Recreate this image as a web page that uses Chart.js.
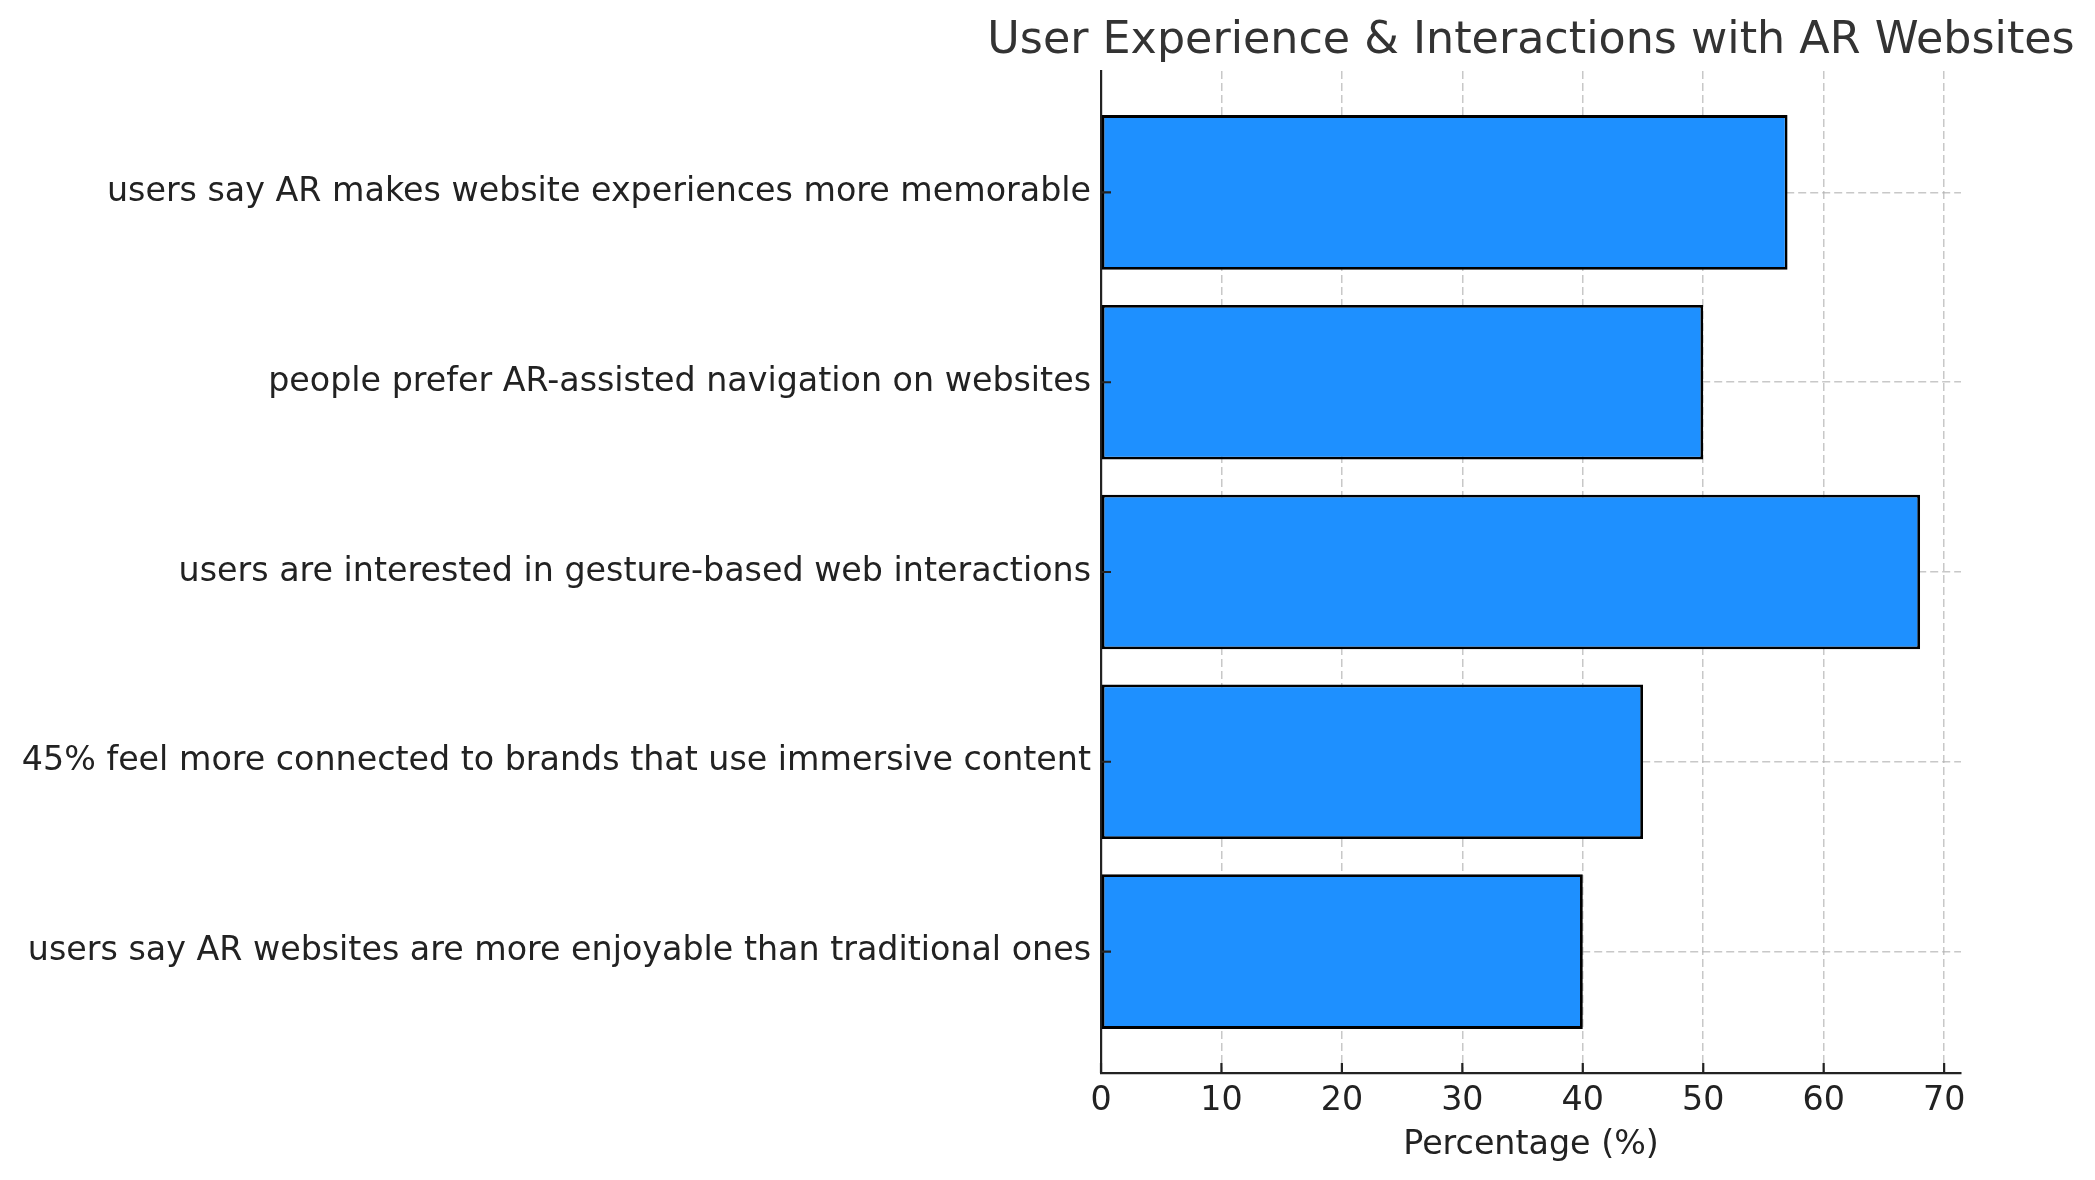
<!DOCTYPE html>
<html>
<head>
<meta charset="utf-8">
<script src="https://cdn.jsdelivr.net/npm/chart.js@4/dist/chart.umd.min.js"></script>
<style>
  html, body { margin: 0; padding: 0; background: #fff; }
</style>
</head>
<body>
<canvas id="chart" width="2095" height="1180"></canvas>
<script>
// data, listed top to bottom as in the picture
const categories = [
  'users say AR makes website experiences more memorable',
  'people prefer AR-assisted navigation on websites',
  'users are interested in gesture-based web interactions',
  '45% feel more connected to brands that use immersive content',
  'users say AR websites are more enjoyable than traditional ones'
];
const values = [57, 50, 68, 45, 40];
const xTicks = [0, 10, 20, 30, 40, 50, 60, 70];
const chartTitle = 'User Experience & Interactions with AR Websites';

const FONT = "'DejaVu Sans', 'Liberation Sans', sans-serif";
const AXIS_COLOR = '#222';
const LABEL_SIZE = 33.3;

// matplotlib-style ticks pointing into the plot
const inwardTicks = {
  id: 'inwardTicks',
  afterDraw(chart) {
    const ctx = chart.ctx;
    const area = chart.chartArea;
    const xs = chart.scales.x, ys = chart.scales.y;
    ctx.save();
    ctx.strokeStyle = AXIS_COLOR;
    ctx.lineWidth = 2.2;
    ctx.beginPath();
    xs.ticks.forEach(t => {
      const px = xs.getPixelForValue(t.value);
      ctx.moveTo(px, area.bottom);
      ctx.lineTo(px, area.bottom - 10);
    });
    ys.ticks.forEach(t => {
      const py = ys.getPixelForValue(t.value);
      ctx.moveTo(area.left, py);
      ctx.lineTo(area.left + 10, py);
    });
    ctx.stroke();
    ctx.restore();
  }
};

// title centred over the plot area, allowed to run wider than it
const plotTitle = {
  id: 'plotTitle',
  afterDraw(chart) {
    const ctx = chart.ctx;
    const area = chart.chartArea;
    ctx.save();
    ctx.fillStyle = '#333';
    ctx.font = '44.4px ' + FONT;
    ctx.textAlign = 'center';
    ctx.textBaseline = 'alphabetic';
    ctx.fillText(chartTitle, (area.left + area.right) / 2, 53);
    ctx.restore();
  }
};

new Chart(document.getElementById('chart').getContext('2d'), {
  type: 'bar',
  data: {
    datasets: [{
      data: values.map((v, i) => ({ x: v, y: i })),
      backgroundColor: '#1E90FF',
      borderColor: '#000',
      borderWidth: 2.8,
      borderSkipped: false,
      categoryPercentage: 1,
      barPercentage: 0.815
    }]
  },
  options: {
    indexAxis: 'y',
    responsive: false,
    animation: false,
    devicePixelRatio: 1,
    layout: { padding: { left: 0, right: 134, top: 71, bottom: 0 } },
    plugins: {
      legend: { display: false },
      tooltip: { enabled: false },
      title: { display: false }
    },
    scales: {
      x: {
        type: 'linear',
        min: 0,
        max: 71.4,
        z: 1,
        afterBuildTicks(scale) { scale.ticks = xTicks.map(v => ({ value: v })); },
        afterFit(scale) { scale.height = 107; },
        ticks: {
          color: AXIS_COLOR,
          padding: 8,
          maxRotation: 0,
          font: { family: FONT, size: LABEL_SIZE }
        },
        grid: {
          color: 'rgba(176,176,176,0.7)',
          lineWidth: 1.5,
          drawTicks: false
        },
        border: { display: true, color: AXIS_COLOR, width: 2.2, dash: [8, 4] },
        title: {
          display: true,
          text: 'Percentage (%)',
          color: AXIS_COLOR,
          font: { family: FONT, size: LABEL_SIZE },
          padding: { top: 15, bottom: 15 }
        }
      },
      y: {
        type: 'linear',
        reverse: true,
        min: -0.64,
        max: 4.64,
        offset: false,
        z: 1,
        afterBuildTicks(scale) { scale.ticks = categories.map((c, i) => ({ value: i })); },
        afterFit(scale) { scale.width = 1101; },
        ticks: {
          color: AXIS_COLOR,
          padding: 10,
          font: { family: FONT, size: LABEL_SIZE },
          callback: v => categories[v]
        },
        grid: {
          offset: false,
          color: 'rgba(176,176,176,0.7)',
          lineWidth: 1.5,
          drawTicks: false
        },
        border: { display: true, color: AXIS_COLOR, width: 2.2, dash: [8, 4] }
      }
    }
  },
  plugins: [inwardTicks, plotTitle]
});
</script>
</body>
</html>
